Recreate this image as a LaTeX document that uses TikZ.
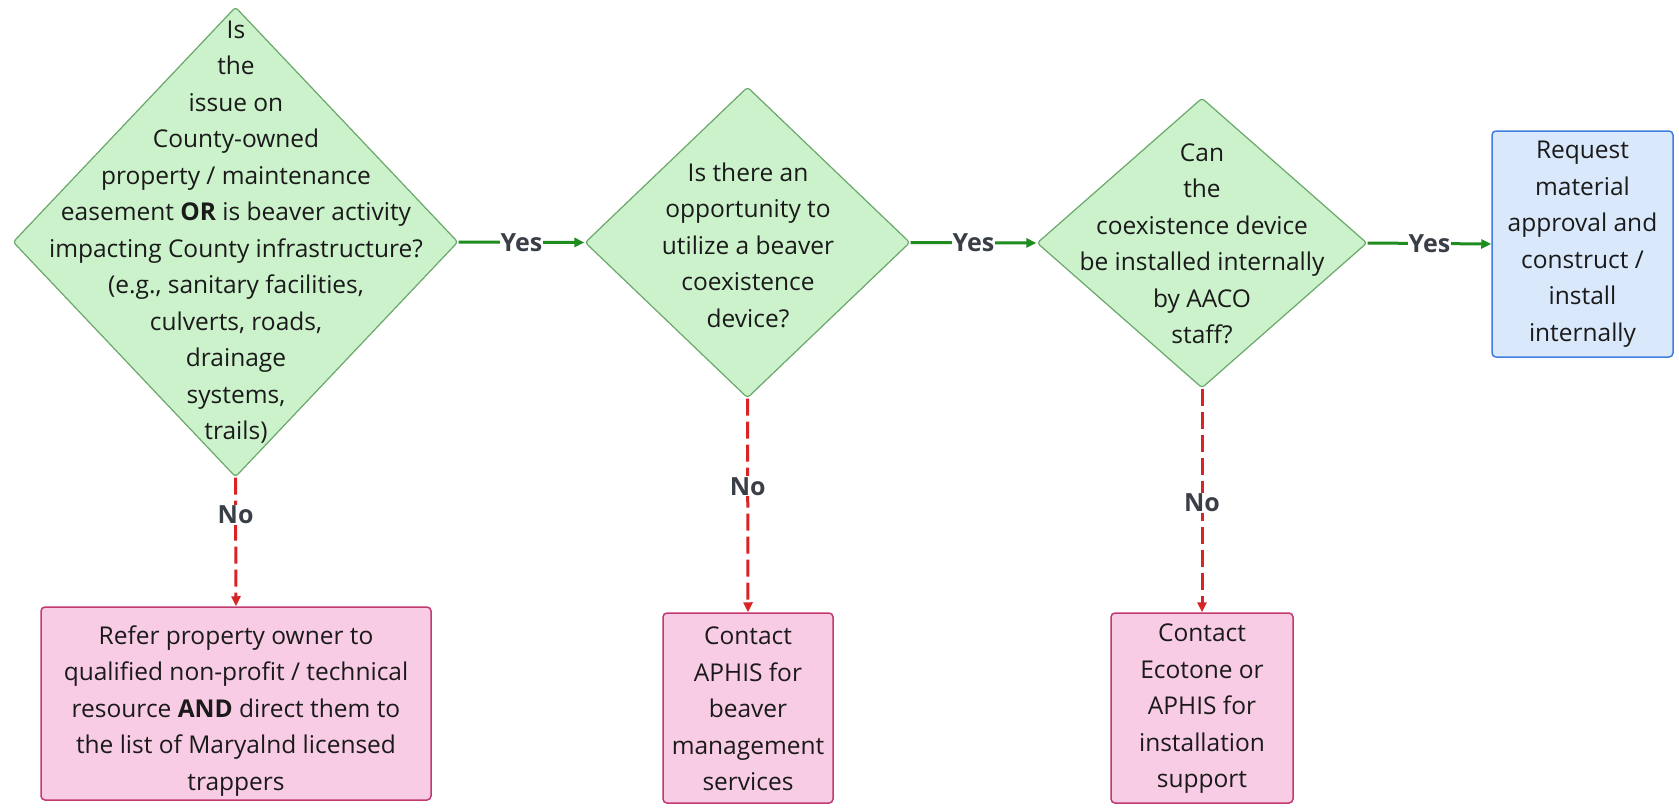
\documentclass[tikz,border=0pt]{standalone}
\usepackage{fontspec}
\setmainfont{Open Sans}
\usetikzlibrary{shapes.geometric,arrows.meta}
\definecolor{dfill}{HTML}{CCF2CC}
\definecolor{ddraw}{HTML}{6AA86A}
\definecolor{pfill}{HTML}{F9CCE5}
\definecolor{pdraw}{HTML}{C23A6E}
\definecolor{bfill}{HTML}{DAE8FC}
\definecolor{bdraw}{HTML}{3F7DE0}
\definecolor{yesline}{HTML}{1E8C1E}
\definecolor{noline}{HTML}{D82424}
\definecolor{lbl}{HTML}{3A3F47}
\definecolor{txt}{HTML}{1A1A1A}
\begin{document}
\begin{tikzpicture}[x=1pt,y=-1pt,
  dec/.style={diamond,draw=ddraw,fill=dfill,line width=1.2pt,inner sep=0pt,rounded corners=3pt},
  qtext/.style={align=center,text=txt,font=\fontsize{24.5}{36.5}\selectfont,inner sep=0pt},
  pinkbox/.style={draw=pdraw,fill=pfill,line width=1.5pt,rounded corners=4pt,align=center,text=txt,font=\fontsize{24.5}{36.5}\selectfont,inner sep=0pt},
  bluebox/.style={draw=bdraw,fill=bfill,line width=1.5pt,rounded corners=4pt,align=center,text=txt,font=\fontsize{24.5}{36.5}\selectfont,inner sep=0pt},
  yesarrow/.style={draw=yesline,line width=3pt,-{Triangle[length=10pt,width=9pt]}},
  noarrow/.style={draw=noline,line width=3pt,dash pattern=on 17pt off 6pt,-{Triangle[length=10pt,width=9pt]}},
  edgelbl/.style={fill=white,text=lbl,font=\bfseries\fontsize{25}{28}\selectfont,inner sep=1pt}
]
\useasboundingbox[fill=white] (0,0) rectangle (1679,811);

% decisions
\node[dec,minimum width=445pt,minimum height=470pt] (d1) at (235.5,242) {};
\node[qtext] (t1) at (236,232) {Is\\the\\issue on\\County-owned\\property / maintenance\\easement \textbf{OR} is beaver activity\\impacting County infrastructure?\\(e.g., sanitary facilities,\\culverts, roads,\\drainage\\systems,\\trails)};

\node[dec,minimum width=325pt,minimum height=311pt] (d2) at (747.5,242.5) {};
\node[qtext] (t2) at (748,245) {Is there an\\opportunity to\\utilize a beaver\\coexistence\\device?};

\node[dec,minimum width=330pt,minimum height=290pt] (d3) at (1202,243) {};
\node[qtext] (t3) at (1202,244) {Can\\the\\coexistence device\\be installed internally\\by AACO\\staff?};

% outcome boxes
\node[bluebox,minimum width=181pt,minimum height=226pt] (b1) at (1582.5,244) {Request\\material\\approval and\\construct /\\install\\internally};

\node[pinkbox,minimum width=390pt,minimum height=193pt] (p1) at (236,703.5) {};
\node[qtext] (tp1) at (236,711) {Refer property owner to\\qualified non-profit / technical\\resource \textbf{AND} direct them to\\the list of Maryalnd licensed\\trappers};

\node[pinkbox,minimum width=170pt,minimum height=190pt] (p2) at (748,708) {};
\node[qtext] (tp2) at (748,709) {Contact\\APHIS for\\beaver\\management\\services};

\node[pinkbox,minimum width=182pt,minimum height=190pt] (p3) at (1202,708) {};
\node[qtext] (tp3) at (1202,709) {Contact\\Ecotone or\\APHIS for\\installation\\support};

% connectors
\draw[yesarrow] (d1.east) -- node[edgelbl,pos=0.5]{Yes} (d2.west);
\draw[yesarrow] (d2.east) -- node[edgelbl,pos=0.5]{Yes} (d3.west);
\draw[yesarrow] (d3.east) -- node[edgelbl,pos=0.5]{Yes} (b1.west);

\draw[noarrow] (d1.south) -- node[edgelbl,pos=0.29]{No} (p1.north);
\draw[noarrow] (d2.south) -- node[edgelbl,pos=0.41]{No} (p2.north);
\draw[noarrow] (d3.south) -- node[edgelbl,pos=0.51]{No} (p3.north);
\end{tikzpicture}
\end{document}
